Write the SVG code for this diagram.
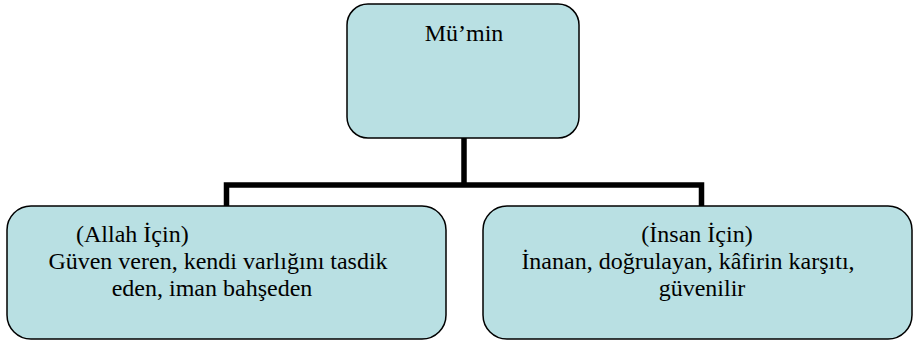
<svg xmlns="http://www.w3.org/2000/svg" width="913" height="344" viewBox="0 0 913 344">
<style>
.box{fill:#b9e0e3;stroke:#000;stroke-width:1.5}
text{font-family:'Liberation Serif','Times New Roman',Times,serif;font-size:24px;fill:#000}
.c{text-anchor:middle}
.conn{fill:none;stroke:#000;stroke-width:5.5;stroke-linejoin:miter;stroke-linecap:butt}
</style>
<rect width="913" height="344" fill="#fff"/>
<g id="connectors">
<path class="conn" d="M464 138 V185"/>
<path class="conn" d="M226.5 206 V185 H701.5 V206"/>
</g>
<g id="node-mumin">
<rect class="box" x="347" y="4" width="232" height="134" rx="21" ry="21"/>
<text class="c" x="464" y="41">Mü’min</text>
</g>
<g id="node-allah">
<rect class="box" x="7" y="206" width="439" height="133" rx="24" ry="24"/>
<text x="76" y="242">(Allah İçin)</text>
<text class="c" x="218" y="269">Güven veren, kendi varlığını tasdik</text>
<text class="c" x="212" y="296">eden, iman bahşeden</text>
</g>
<g id="node-insan">
<rect class="box" x="483" y="206" width="429" height="133" rx="24" ry="24"/>
<text class="c" x="697" y="242">(İnsan İçin)</text>
<text class="c" x="688" y="269">İnanan, doğrulayan, kâfirin karşıtı,</text>
<text class="c" x="702" y="296">güvenilir</text>
</g>
</svg>
